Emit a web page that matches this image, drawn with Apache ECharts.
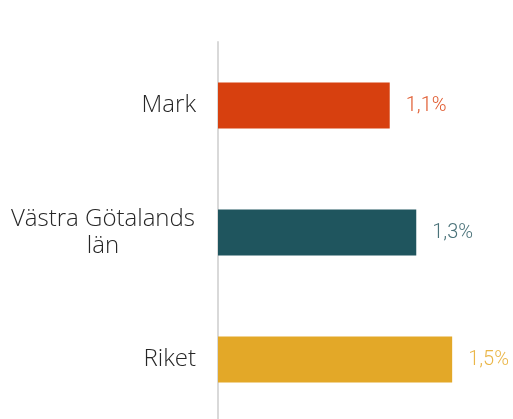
<!DOCTYPE html>
<html>
<head>
<meta charset="utf-8">
<script src="https://cdn.jsdelivr.net/npm/echarts@6/dist/echarts.min.js"></script>
<style>
html,body{margin:0;padding:0;background:#fff;}
#c{width:513px;height:419px;}
</style>
</head>
<body>
<div id="c"></div>
<script>
const categories = ['Mark', 'Västra Götalands\nlän', 'Riket'];
const values = [1.1, 1.27, 1.5];
const barColors = ['#D7400F', '#1F555E', '#E3A828'];
const labelColors = ['#E05A2E', '#4A7279', '#EAB648'];

const chart = echarts.init(document.getElementById('c'));
chart.setOption({
  animation: false,
  grid: { left: 218, top: 42, width: 281, height: 381, outerBoundsMode: 'none', containLabel: false },
  xAxis: {
    type: 'value', min: 0, max: 1.8,
    show: false
  },
  yAxis: {
    type: 'category', data: categories, inverse: true,
    axisLine: { show: true, lineStyle: { color: '#D9D9D9', width: 2 } },
    axisTick: { show: false },
    axisLabel: {
      margin: 22, fontSize: 24, lineHeight: 27, color: '#262626',
      fontFamily: 'Open Sans', fontWeight: 300, align: 'right',
      formatter: v => v.indexOf('\n') >= 0
        ? v.split('\n').map(s => '{c|' + s + '}').join('\n')
        : v,
      rich: {
        c: { fontSize: 24, lineHeight: 27, fontFamily: 'Open Sans', fontWeight: 300,
             color: '#262626', width: 186, align: 'center' }
      }
    }
  },
  series: [{
    type: 'bar',
    barWidth: 46,
    data: values.map((v, i) => ({
      value: v,
      itemStyle: { color: barColors[i] },
      label: { color: labelColors[i] }
    })),
    label: {
      show: true, position: 'right', distance: 16,
      fontSize: 20, fontFamily: 'Roboto', fontWeight: 300,
      formatter: p => p.value.toFixed(1).replace('.', ',') + '%'
    }
  }]
});
</script>
</body>
</html>
